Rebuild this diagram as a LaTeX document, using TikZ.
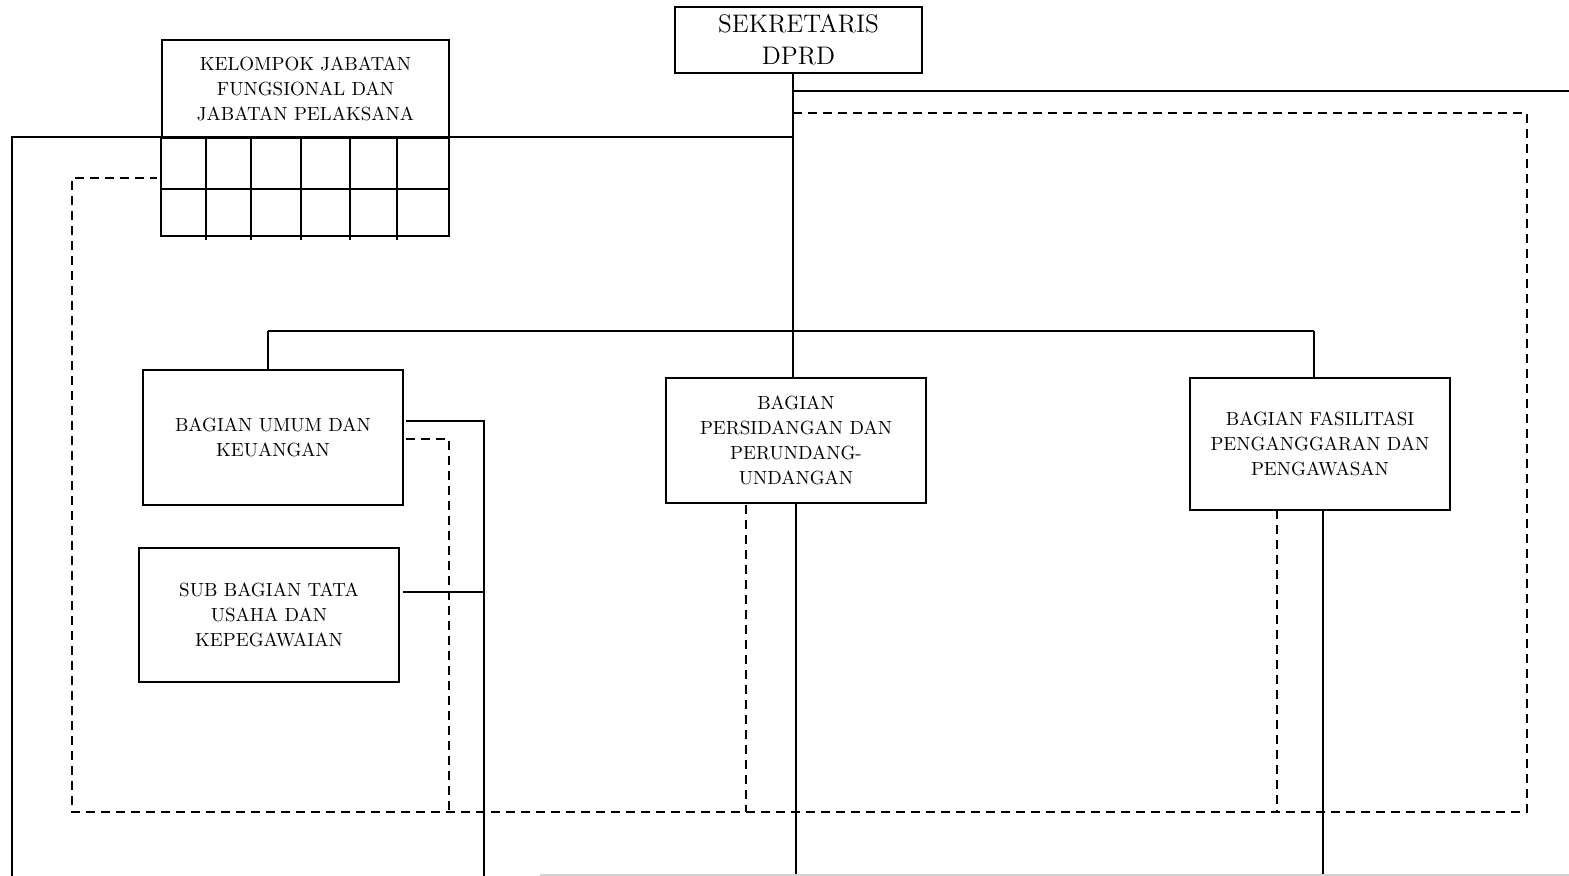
\documentclass[tikz,border=0pt]{standalone}
\usetikzlibrary{positioning}
\usetikzlibrary{calc}
\begin{document}
\begin{tikzpicture}[x=0.5pt, y=-0.5pt, line width=0.9pt, font=\fontsize{9.5}{12.5}\selectfont]
    \tikzstyle{block}=[draw=black,rectangle,fill=none,line width=0.9pt,align=center,inner sep=0pt]
    \tikzstyle{dashline}=[dash pattern=on 4.5pt off 3pt, line width=0.8pt]

    \useasboundingbox (0,0) rectangle (1569,876);

    \node[block, minimum width=123.5pt, minimum height=33pt, font=\fontsize{12.7}{16}\selectfont] (sekretaris) at (798.5,40) {SEKRETARIS\\DPRD};
    \node[block, minimum width=143.5pt, minimum height=48.5pt] (kelompok) at (305.5,88.5) {KELOMPOK JABATAN\\FUNGSIONAL DAN\\JABATAN PELAKSANA};
    \node[block, minimum width=130pt, minimum height=67.5pt] (umum) at (273,437.5) {BAGIAN UMUM DAN\\KEUANGAN};
    \node[block, minimum width=130pt, minimum height=67pt] (subbag) at (269,615) {SUB BAGIAN TATA\\USAHA DAN\\KEPEGAWAIAN};
    \node[block, minimum width=130pt, minimum height=62.5pt] (persidangan) at (796,440.5) {BAGIAN\\PERSIDANGAN DAN\\PERUNDANG-\\UNDANGAN};
    \node[block, minimum width=130pt, minimum height=66pt] (fasilitasi) at (1320,444) {BAGIAN FASILITASI\\PENGANGGARAN DAN\\PENGAWASAN};

    % grid under the functional group
    \draw (kelompok.south west) rectangle (449,236);
    \draw (162,189) -- (449,189);
    \foreach \gx in {206,251,301,350,397}
        \draw (\gx,137) -- (\gx,240);

    \coordinate (trunk) at (793,331);
    \coordinate (busL) at (268,331);
    \coordinate (busR) at (1314,331);
    \coordinate (tapA) at (793,91);
    \coordinate (endA) at (1569,91);
    \coordinate (tapB) at (793,137);
    \coordinate (cornerB) at (12,137);
    \coordinate (endB) at (12,876);
    \coordinate (umumOut) at (406,421);
    \coordinate (umumDown) at (484,421);
    \coordinate (umumEnd) at (484,876);
    \coordinate (subOut) at (403,592);

    \draw (sekretaris.south -| trunk) -- (trunk) -- (persidangan.north -| trunk);
    \draw (busL) -- (busR);
    \draw (busL) -- (umum.north -| busL);
    \draw (busR) -- (fasilitasi.north -| busR);
    \draw (tapA) -- (endA);
    \draw (endB) -- (cornerB) -- (tapB);
    \draw (umumOut) -- (umumDown) -- (umumEnd);
    \draw (subOut) -- (subOut -| umumDown);
    \draw (persidangan.south) -- (persidangan.south |- endB);
    \draw ([xshift=1.5pt]fasilitasi.south) -- ([xshift=1.5pt]fasilitasi.south |- endB);

    % coordination lines
    \draw[dashline] (793,113) -- (1527,113) -- (1527,812) -- (72,812) -- (72,178) -- (157,178);
    \draw[dashline] (406,439) -- (449,439) -- (449,812);
    \draw[dashline] (746,505) -- (746,812);
    \draw[dashline] (1277,510) -- (1277,812);

    \draw[gray!35, line width=0.6pt] (540,875) -- (1569,875);
\end{tikzpicture}
\end{document}
